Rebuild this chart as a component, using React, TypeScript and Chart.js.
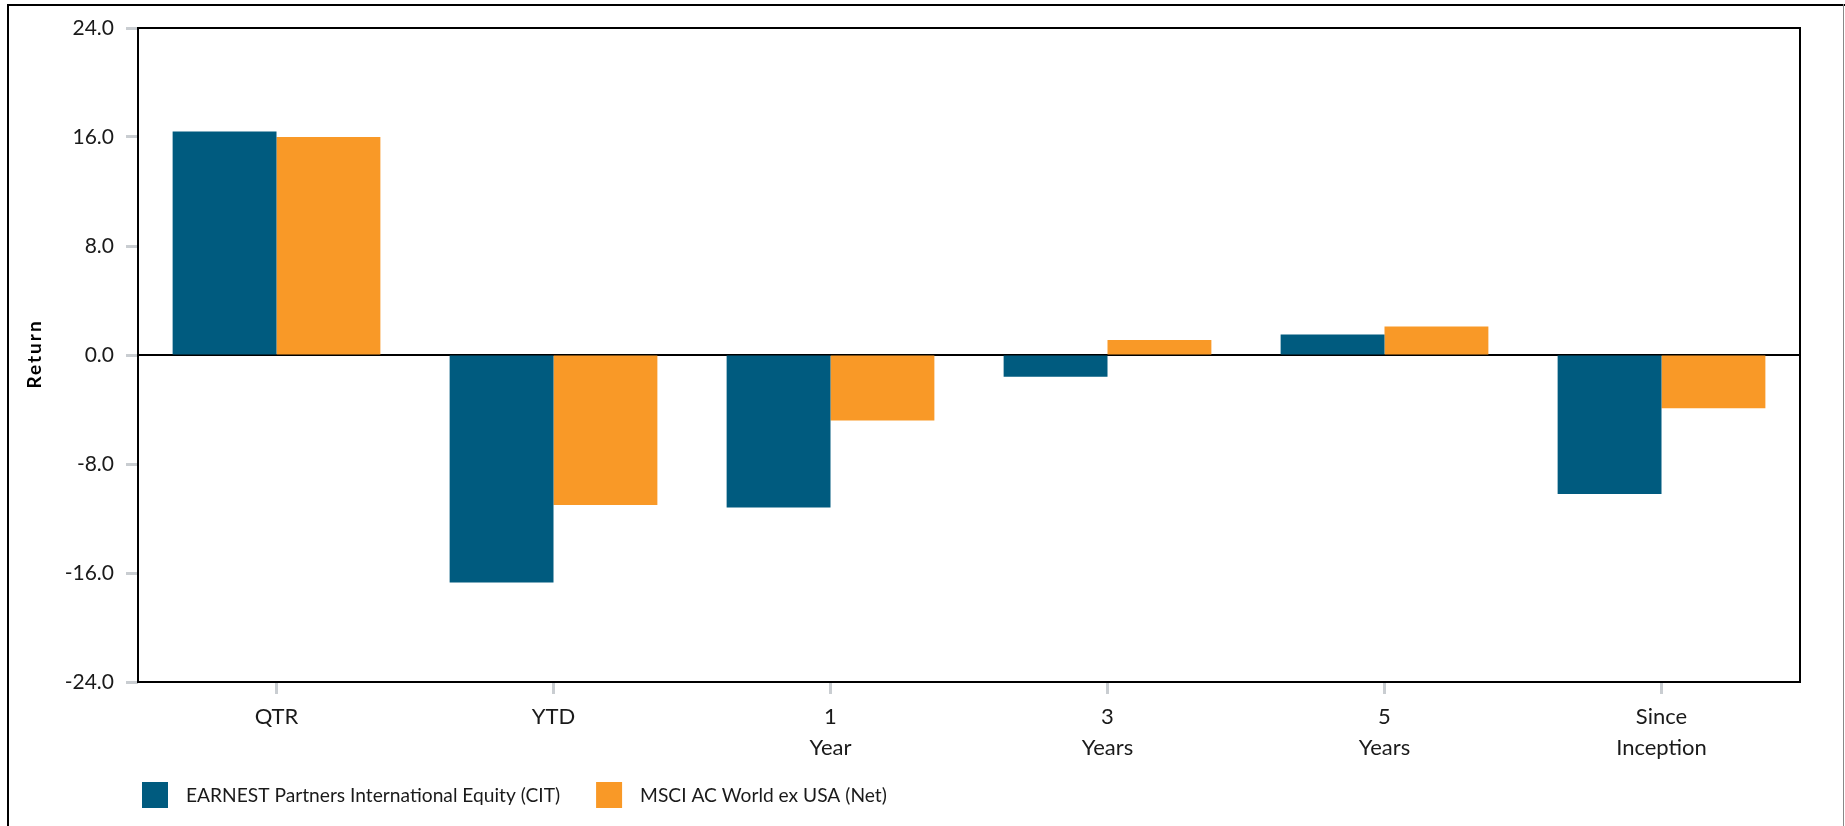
import React, { useEffect, useRef } from "react";
import { Chart, registerables } from "chart.js";

Chart.register(...registerables);

const categories: (string | string[])[] = [
  "QTR",
  "YTD",
  ["1", "Year"],
  ["3", "Years"],
  ["5", "Years"],
  ["Since", "Inception"],
];
const fundLabel = "EARNEST Partners International Equity (CIT)";
const benchLabel = "MSCI AC World ex USA (Net)";
const fundValues = [16.4, -16.7, -11.2, -1.6, 1.5, -10.2];
const benchValues = [16.0, -11.0, -4.8, 1.1, 2.1, -3.9];
const yTickValues = [-24, -16, -8, 0, 8, 16, 24];
const yAxisTitle = "Return";

const FUND_COLOR = "#005B7F";
const BENCH_COLOR = "#F99927";
const TICK_COLOR = "#C9CDD1";
const FONT = "Lato, 'Open Sans', sans-serif";

const decorPlugin = {
  id: "decor",
  beforeDatasetsDraw(chart: any) {
    const { ctx, chartArea, scales } = chart;
    const y0 = scales.y.getPixelForValue(0);
    ctx.save();
    ctx.strokeStyle = "#000";
    ctx.lineWidth = 2;
    ctx.beginPath();
    ctx.moveTo(chartArea.left, y0);
    ctx.lineTo(chartArea.right, y0);
    ctx.stroke();
    ctx.restore();
  },
  afterDraw(chart: any) {
    const { ctx, chartArea } = chart;
    ctx.save();
    ctx.strokeStyle = "#000";
    ctx.lineWidth = 2;
    ctx.strokeRect(
      chartArea.left,
      chartArea.top,
      chartArea.right - chartArea.left,
      chartArea.bottom - chartArea.top
    );
    ctx.restore();

    ctx.save();
    ctx.translate(35, (chartArea.top + chartArea.bottom) / 2);
    ctx.rotate(-Math.PI / 2);
    ctx.font = `bold 19px ${FONT}`;
    (ctx as any).letterSpacing = "2px";
    ctx.fillStyle = "#000";
    ctx.textAlign = "center";
    ctx.textBaseline = "middle";
    ctx.fillText(yAxisTitle, 1, 0);
    (ctx as any).letterSpacing = "0px";
    ctx.restore();

    ctx.save();
    const items = chart.data.datasets.map((d: any) => ({
      label: d.label,
      color: d.backgroundColor,
    }));
    ctx.font = `19.2px ${FONT}`;
    ctx.textBaseline = "middle";
    ctx.textAlign = "left";
    let x = 142;
    const boxTop = 782;
    const box = 26;
    items.forEach((it: any) => {
      ctx.fillStyle = it.color;
      ctx.fillRect(x, boxTop, box, box);
      ctx.fillStyle = "#1a1a1a";
      const tx = x + box + 18;
      ctx.fillText(it.label, tx, boxTop + box / 2 + 1);
      x = tx + ctx.measureText(it.label).width + 36;
    });
    ctx.restore();
  },
};

export default function App() {
  const ref = useRef<HTMLCanvasElement | null>(null);

  useEffect(() => {
    if (!ref.current) return;
    const chart = new Chart(ref.current, {
      type: "bar",
      data: {
        labels: categories as any,
        datasets: [
          {
            label: fundLabel,
            data: fundValues,
            backgroundColor: FUND_COLOR,
            borderWidth: 0,
            categoryPercentage: 0.75,
            barPercentage: 1.0,
          },
          {
            label: benchLabel,
            data: benchValues,
            backgroundColor: BENCH_COLOR,
            borderWidth: 0,
            categoryPercentage: 0.75,
            barPercentage: 1.0,
          },
        ],
      },
      options: {
        responsive: false,
        maintainAspectRatio: false,
        devicePixelRatio: 1,
        animation: false,
        layout: { padding: { top: 28, right: 45, left: 0, bottom: 0 } },
        plugins: {
          legend: { display: false },
          tooltip: { enabled: false },
        },
        scales: {
          x: {
            offset: true,
            grid: {
              offset: false,
              drawOnChartArea: false,
              drawTicks: true,
              tickLength: 12,
              tickWidth: 3,
              tickColor: TICK_COLOR,
            },
            border: { display: false },
            ticks: {
              color: "#1a1a1a",
              padding: 7,
              maxRotation: 0,
              autoSkip: false,
              font: { family: FONT, size: 22, lineHeight: 31 / 22 },
            },
            afterFit(scale: any) {
              scale.height = 144;
            },
          },
          y: {
            min: -24,
            max: 24,
            grid: {
              drawOnChartArea: false,
              drawTicks: true,
              tickLength: 12,
              tickWidth: 3,
              tickColor: TICK_COLOR,
            },
            border: { display: false },
            afterBuildTicks(scale: any) {
              scale.ticks = yTickValues.map((v) => ({ value: v }));
            },
            ticks: {
              color: "#1a1a1a",
              padding: 12,
              font: { family: FONT, size: 21 },
              callback: (v: any) => Number(v).toFixed(1),
            },
            afterFit(scale: any) {
              scale.width = 138;
            },
          },
        },
      },
      plugins: [decorPlugin],
    });
    return () => chart.destroy();
  }, []);

  return (
    <>
      <div
        style={{
          position: "fixed",
          left: 7,
          top: 4,
          width: 1845,
          height: 900,
          borderLeft: "2px solid #000",
          borderTop: "2px solid #000",
          boxSizing: "border-box",
        }}
      />
      <div
        style={{
          position: "fixed",
          left: 1843,
          top: 4,
          width: 1,
          height: 900,
          background: "#888",
        }}
      />
      <canvas
        ref={ref}
        width={1845}
        height={826}
        style={{ position: "fixed", left: 0, top: 0, width: 1845, height: 826, display: "block" }}
      />
    </>
  );
}
